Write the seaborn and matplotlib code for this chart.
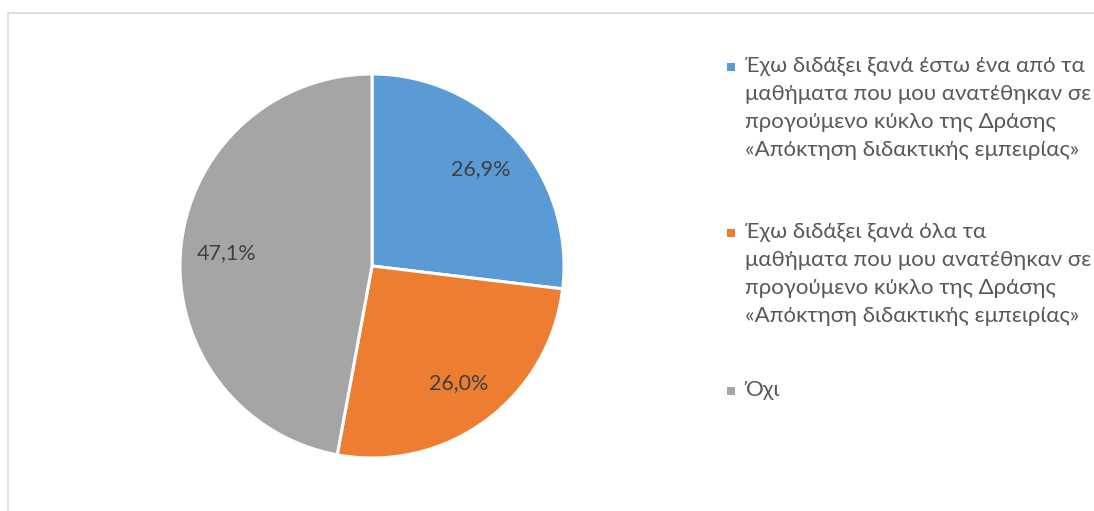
import matplotlib
matplotlib.use("Agg")
import matplotlib.pyplot as plt
from matplotlib.patches import Rectangle
import seaborn as sns

# data
categories = [
    "Έχω διδάξει ξανά έστω ένα από τα\nμαθήματα που μου ανατέθηκαν σε\nπρογούμενο κύκλο της Δράσης\n«Απόκτηση διδακτικής εμπειρίας»",
    "Έχω διδάξει ξανά όλα τα\nμαθήματα που μου ανατέθηκαν σε\nπρογούμενο κύκλο της Δράσης\n«Απόκτηση διδακτικής εμπειρίας»",
    "Όχι",
]
shares = [26.9, 26.0, 47.1]
colors = ["#5B9BD5", "#ED7D31", "#A5A5A5"]

sns.set_theme(style="white")
plt.rcParams["font.family"] = ["Lato", "Noto Sans", "DejaVu Sans"]

W, H = 1094, 511
fig = plt.figure(figsize=(W / 100, H / 100), dpi=100)

# chart frame (only top and left edge visible in the crop)
top = 1 - 13 / H
fig.add_artist(Rectangle((8 / W, -0.2), 1.2, top + 0.2,
                         transform=fig.transFigure, fill=False,
                         edgecolor="#D9D9D9", linewidth=1.2))

cx, cy, r = 372, 266, 192
ax = fig.add_axes([(cx - r) / W, (H - cy - r) / H, 2 * r / W, 2 * r / H])

def fmt(p):
    return f"{p:.1f}%".replace(".", ",")

wedges, texts, autotexts = ax.pie(
    shares, colors=colors, startangle=90, counterclock=False,
    autopct=fmt, pctdistance=0.76,
    wedgeprops=dict(edgecolor="white", linewidth=2.2),
    textprops=dict(color="#404040", fontsize=15.5))
ax.set_xlim(-1.0, 1.0)
ax.set_ylim(-1.0, 1.0)
ax.axis("off")

# legend on the right, square keys next to the first line of each entry
tops = [56, 222, 380]
for lab, col, yt in zip(categories, colors, tops):
    fig.add_artist(Rectangle((727 / W, 1 - (yt + 15) / H), 8 / W, 8 / H,
                             transform=fig.transFigure, facecolor=col,
                             edgecolor="none"))
    fig.text(745 / W, 1 - yt / H, lab, ha="left", va="top",
             fontsize=16, color="#595959", linespacing=1.5)

fig.savefig("out.png", dpi=100)
